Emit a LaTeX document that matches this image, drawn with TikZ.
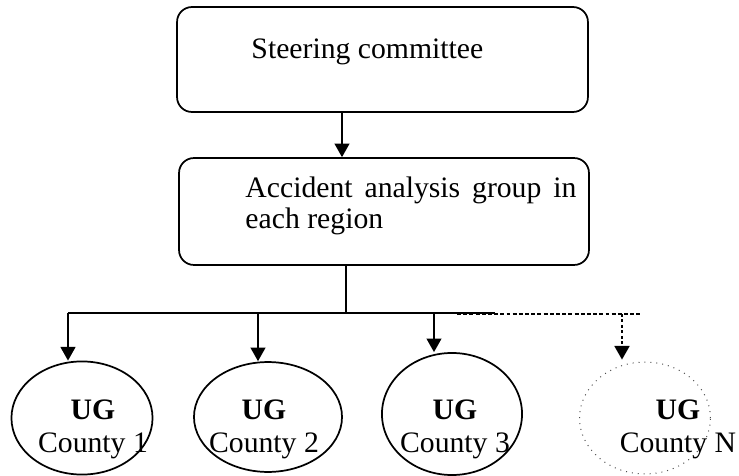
\documentclass[tikz,border=0pt]{standalone}
\usepackage{fontspec}
\setmainfont{Liberation Serif}
\usetikzlibrary{arrows.meta,shapes.geometric}

\begin{document}
\begin{tikzpicture}[x=0.404pt,y=-0.404pt,
  font=\fontsize{12}{12.9}\selectfont,
  stage/.style={draw, line width=0.7pt, rounded corners=6pt, inner sep=0pt},
  unit/.style={draw, ellipse, line width=0.7pt, inner sep=0pt},
  unitopen/.style={draw=black!70, ellipse, dotted, line width=0.4pt, inner sep=0pt},
  link/.style={line width=0.7pt},
  arr/.style={link, -{Triangle[length=5.5pt,width=6pt]}},
  lbl/.style={inner sep=0pt, anchor=base},
]
\useasboundingbox (0,0) rectangle (739,476);

% the two stages at the top
\node[stage, minimum width=166pt, minimum height=42.4pt] (steer) at (382.5,59.5) {};
\node[inner sep=0pt, anchor=base west] (steertxt) at (251,58) {Steering committee};

\node[stage, minimum width=165.6pt, minimum height=43.2pt] (region) at (384,211.5) {};
\node[inner sep=0pt, anchor=base west, text width=133.7pt, align=justify] (regiontxt) at (245,197)
  {Accident analysis group in each region};

\coordinate (k1) at (342,0);
\draw[arr] (k1 |- steer.south) -- (k1 |- region.north);

% county groups
\node[unit, minimum width=57pt, minimum height=45.7pt] (e1) at (82,418) {};
\node[unit, minimum width=59.8pt, minimum height=44.4pt] (e2) at (268,417) {};
\node[unit, minimum width=56.6pt, minimum height=49.3pt] (e3) at (452,414) {};
\node[unitopen, minimum width=52.9pt, minimum height=45.2pt] (eN) at (645,418) {};

\node[lbl] (u1) at (93,419) {\textbf{UG}};
\node[lbl] (c1) at (93,452) {County 1};
\node[lbl] (u2) at (264,419) {\textbf{UG}};
\node[lbl] (c2) at (264,452) {County 2};
\node[lbl] (u3) at (455,419) {\textbf{UG}};
\node[lbl] (c3) at (455,452) {County 3};
\node[lbl] (uN) at (678,419) {\textbf{UG}};
\node[lbl] (cN) at (678,452) {County N};

% distribution bus
\coordinate (hub) at (346,313);
\coordinate (busL) at (68,313);
\coordinate (busR) at (495,313);
\coordinate (d1) at (68,313);
\coordinate (d2) at (258,313);
\coordinate (d3) at (434,313);
\coordinate (dashL) at (457,314);
\coordinate (dashR) at (642,314);
\coordinate (d4) at (622,314);

\draw[link] (region.south -| hub) -- (hub);
\draw[link] (busL) -- (busR);
\draw[line width=0.5pt, dash pattern=on 1.6pt off 0.9pt] (dashL) -- (dashR);

\draw[arr] (d1) -- (d1 |- e1.north);
\draw[arr] (d2) -- (d2 |- e2.north);
\draw[arr] (d3) -- (d3 |- e3.north);
\draw[line width=0.9pt, dash pattern=on 1.1pt off 1.1pt, -{Triangle[length=5.5pt,width=6pt]}] (d4) -- ([yshift=0.8pt]d4 |- eN.north);
\end{tikzpicture}
\end{document}
